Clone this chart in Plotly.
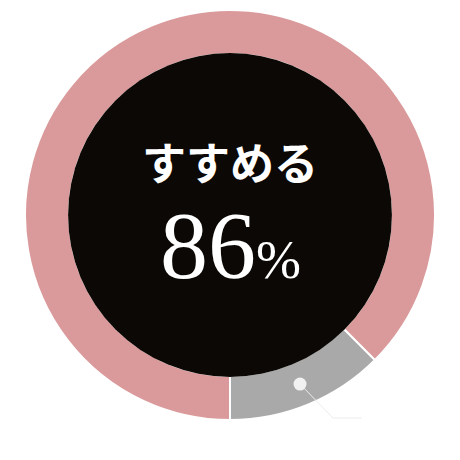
import math
import plotly.graph_objects as go

# slice values
labels = ["すすめない", "すすめる"]
values = [12.5, 87.5]
colors = ["#a9a9a9", "#da9a9b"]
center_title = "すすめる"
center_value = "86"

W, H = 460, 460
# the page body adds 8px, so margins are shifted up/left
ml, mr, mt, mb = 17, 33, 2, 48
R = (W - ml - mr) / 2  # pie radius in px
hole = 0.785
start = 135  # degrees clockwise from 12 o'clock

fig = go.Figure(go.Pie(
    labels=labels, values=values, sort=False, direction="clockwise",
    rotation=start, hole=hole, textinfo="none", hoverinfo="label+percent",
    marker=dict(colors=colors, line=dict(color="white", width=2)),
    showlegend=False))

# leader dot on the middle of the small slice
mid = math.radians(start + values[0] / sum(values) * 360 / 2)
r_mid = R * (1 + hole) / 2
ax = 0.5 + r_mid * math.sin(mid) / (W - ml - mr)
ay = 0.5 + r_mid * math.cos(mid) / (H - mt - mb)

fig.update_layout(
    width=W, height=H, margin=dict(l=ml, r=mr, t=mt, b=mb),
    paper_bgcolor="white", plot_bgcolor="white",
    shapes=[
        dict(type="circle", layer="above", xref="paper", yref="paper",
             xsizemode="pixel", ysizemode="pixel", xanchor=0.5, yanchor=0.5,
             x0=-R * hole - 1, x1=R * hole + 1, y0=-R * hole - 1, y1=R * hole + 1,
             fillcolor="#0c0805", line=dict(width=0)),
        dict(type="path", xref="paper", yref="paper",
             xsizemode="pixel", ysizemode="pixel", xanchor=ax, yanchor=ay,
             path="M 0 0 L 33 -34 L 62 -34",
             line=dict(color="#ececec", width=1)),
        dict(type="circle", xref="paper", yref="paper",
             xsizemode="pixel", ysizemode="pixel", xanchor=ax, yanchor=ay,
             x0=-6.5, x1=6.5, y0=-6.5, y1=6.5,
             fillcolor="#f2f2f2", line=dict(width=0)),
    ],
    annotations=[
        dict(text="<b>" + center_title + "</b>", x=0.5, y=0.632, xref="paper", yref="paper",
             showarrow=False, xanchor="center", yanchor="middle",
             font=dict(family="Noto Sans CJK JP", size=44, color="white")),
        dict(text=center_value + "<span style='font-size:54px'>%</span>", x=0.502, y=0.425,
             xref="paper", yref="paper", showarrow=False, xanchor="center", yanchor="middle",
             font=dict(family="Liberation Serif", size=96, color="white")),
    ],
)

fig.write_html("out.html")
